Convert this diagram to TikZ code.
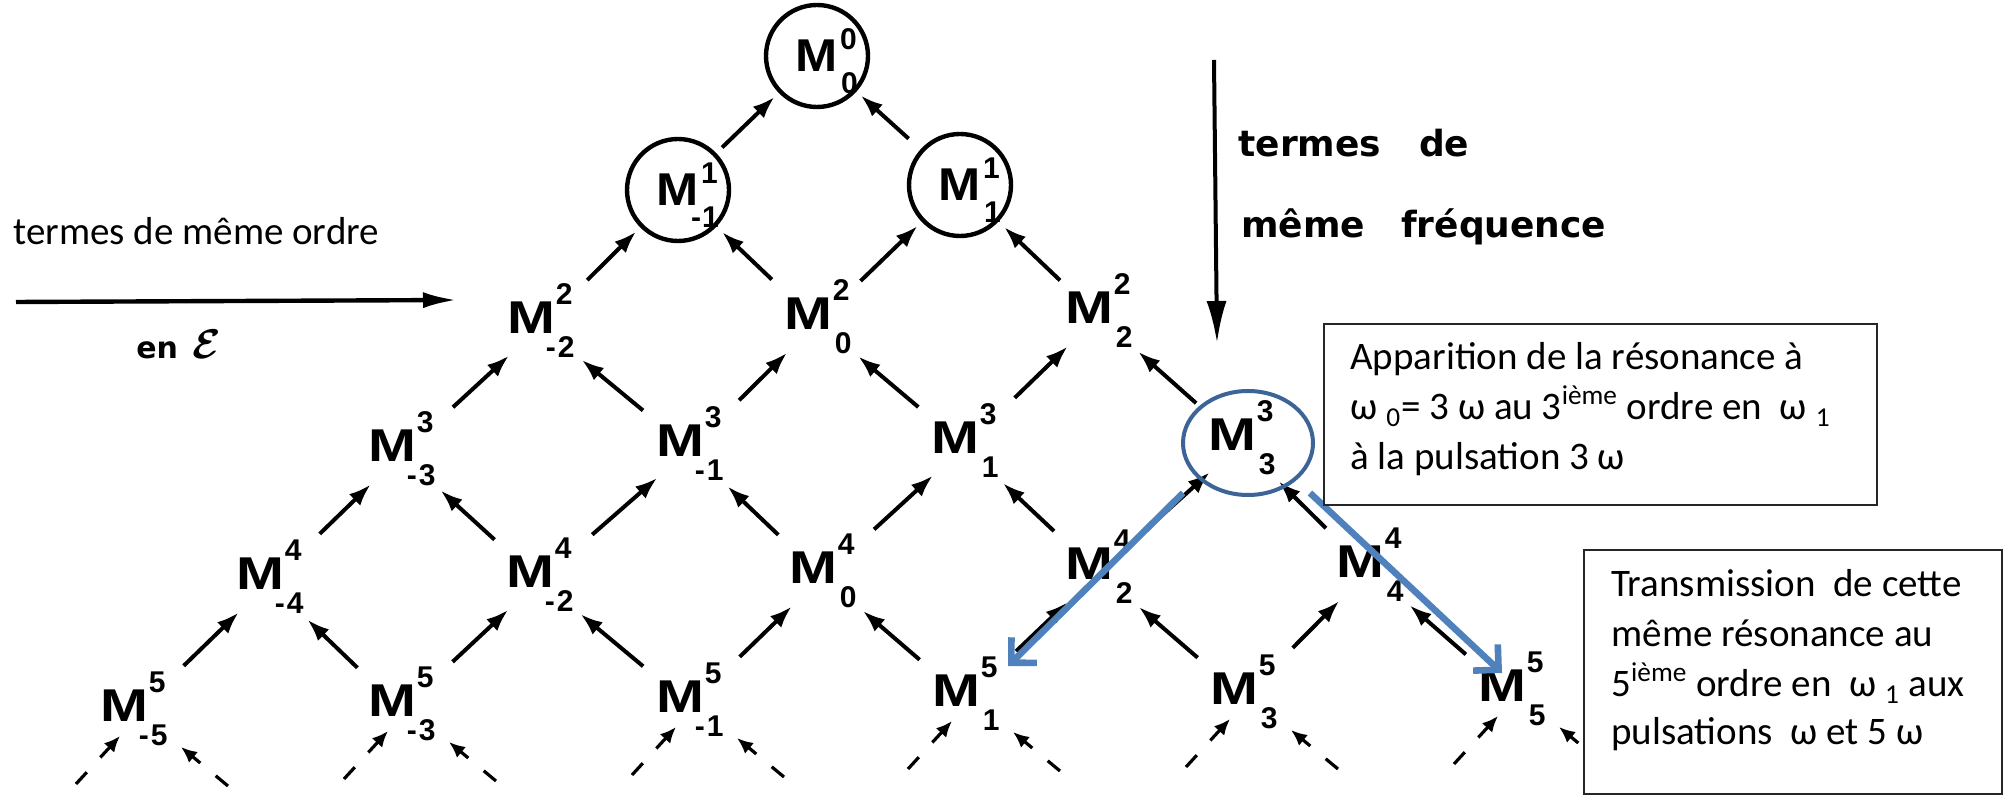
\documentclass[tikz,border=0pt]{standalone}
\usepackage{fontspec}
\usepackage{graphicx}
\setmainfont{Carlito}
\newfontfamily\latfont{Liberation Sans}
\newfontfamily\handfont{DejaVu Sans}
\usetikzlibrary{arrows.meta,calc,shapes.geometric}

\definecolor{ringblue}{RGB}{61,100,150}
\definecolor{arrblue}{RGB}{79,129,189}

\newcommand{\idxfont}{\latfont\bfseries\fontsize{15pt}{15pt}\selectfont}
% lattice term: M with its order above and its frequency index below
\newcommand{\Mlab}[3]{%
  \scalebox{1.25}[1]{M}%
  \rlap{\smash{\hspace{0.5pt}\raisebox{14.5pt}{\idxfont #1}}}%
  \rlap{\smash{\hspace{1.5pt}\raisebox{-12pt}{\idxfont\llap{#2\kern1pt}#3}}}}
% tighter version for the circled terms
\newcommand{\Mcirc}[3]{%
  \scalebox{1.1}[1]{M}%
  \rlap{\smash{\hspace{1pt}\raisebox{11pt}{\idxfont #1}}}%
  \rlap{\smash{\hspace{1.5pt}\raisebox{-11pt}{\idxfont\llap{#2\kern0.5pt}#3}}}}

\begin{document}
\begin{tikzpicture}[x=0.5pt,y=-0.5pt,
  term/.style={font=\latfont\bfseries\fontsize{23pt}{23pt}\selectfont, inner sep=0pt},
  ringed/.style={term, circle, draw, line width=2.2pt, minimum size=51pt},
  arr/.style={line width=2pt, -{Latex[length=11pt,width=8pt]}},
  upright/.style={shorten <=36pt, shorten >=20.5pt},
  upleft/.style={shorten <=24pt, shorten >=33pt},
  darr/.style={line width=1.6pt, dash pattern=on 8pt off 10pt, -{Latex[length=8pt,width=7pt]}},
  bigarr/.style={line width=2.2pt, -{Latex[length=17pt,width=8pt]}},
  vertarr/.style={line width=2pt, -{Latex[length=21pt,width=10pt]}},
  hand/.style={font=\handfont\bfseries\fontsize{18pt}{18pt}\selectfont, inner sep=0pt, anchor=base west},
  boxtxt/.style={font=\fontsize{19.5pt}{25pt}\selectfont, inner sep=0pt, anchor=base west},
  boxst/.style={draw=black!85, line width=0.9pt, fill=white, inner sep=0pt, anchor=north west},
  hl/.style={ellipse, draw=ringblue, line width=2pt, minimum width=65pt, minimum height=52pt, inner sep=0pt},
  blu/.style={draw=arrblue, line width=3.3pt, -{Straight Barb[length=9pt,width=18pt]}}
]
\useasboundingbox (0,0) rectangle (2003,795);

% ---- circled terms (orders 0 and 1)
\node[ringed] (n00) at (817,56)  {\Mcirc{0}{}{0}\hspace{19pt}};
\node[ringed] (n10) at (678,190) {\Mcirc{1}{-}{1}\hspace{19pt}};
\node[ringed] (n11) at (960,185) {\Mcirc{1}{}{1}\hspace{19pt}};

% ---- order 2
\node[term] (n20) at (531,318)  {\Mlab{2}{-}{2}};
\node[term] (n21) at (808,314)  {\Mlab{2}{}{0}};
\node[term] (n22) at (1089,308) {\Mlab{2}{}{2}};
% ---- order 3
\node[term] (n30) at (392,446)  {\Mlab{3}{-}{3}};
\node[term] (n31) at (680,441)  {\Mlab{3}{-}{1}};
\node[term] (n32) at (955,438)  {\Mlab{3}{}{1}};
\node[term] (n33) at (1232,435) {\Mlab{3}{}{3}};
% ---- order 4
\node[term] (n40) at (260,574)  {\Mlab{4}{-}{4}};
\node[term] (n41) at (530,572)  {\Mlab{4}{-}{2}};
\node[term] (n42) at (813,568)  {\Mlab{4}{}{0}};
\node[term] (n43) at (1089,564) {\Mlab{4}{}{2}};
\node[term] (n44) at (1360,562) {\Mlab{4}{}{4}};
% ---- order 5
\node[term] (n50) at (124,706)  {\Mlab{5}{-}{5}};
\node[term] (n51) at (392,701)  {\Mlab{5}{-}{3}};
\node[term] (n52) at (680,697)  {\Mlab{5}{-}{1}};
\node[term] (n53) at (956,691)  {\Mlab{5}{}{1}};
\node[term] (n54) at (1234,689) {\Mlab{5}{}{3}};
\node[term] (n55) at (1502,686) {\Mlab{5}{}{5}};

% ---- couplings between successive orders
\foreach \ra/\rb in {2/3,3/4,4/5}{
  \foreach \i in {0,...,\ra}{
    \pgfmathtruncatemacro{\ii}{\i+1}
    \draw[arr,upright] ($(n\rb\i)+(8,10)$) -- ($(n\ra\i)+(8,10)$);
    \draw[arr,upleft] (n\rb\ii.center) -- (n\ra\i.center);
  }
}
\draw[arr, shorten <=34pt, shorten >=3pt] ($(n20)+(8,10)$) -- (n10);
\draw[arr, shorten <=25pt, shorten >=4pt] (n21.center) -- (n10);
\draw[arr, shorten <=31pt, shorten >=3pt] ($(n21)+(8,10)$) -- (n11);
\draw[arr, shorten <=20pt, shorten >=4pt] (n22.center) -- (n11);
\draw[arr, shorten <=4pt, shorten >=3pt] (n10) -- (n00);
\draw[arr, shorten <=8pt, shorten >=3pt] (n11) -- (n00);

% ---- higher orders continuing below
\foreach \i in {0,...,5}{
  \coordinate (dl\i) at ($(n5\i)+(-48,78)$);
  \coordinate (dr\i) at ($(n5\i)+(104,80)$);
  \draw[darr] (dl\i) -- ($(n5\i)+(-4,30)$);
  \draw[darr] (dr\i) -- ($(n5\i)+(57,41)$);
}

% ---- direction arrows and their captions
\coordinate (hA) at (16,302);
\coordinate (hB) at (457,300);
\draw[bigarr] (hA) -- (hB);
\node[boxtxt] (ordre) at (13,245) {termes de même ordre};
\node[anchor=base west, inner sep=0pt, font=\handfont\bfseries\fontsize{15pt}{15pt}\selectfont] (enE) at (136,359)
  {en\hspace{7pt}{\fontsize{22pt}{22pt}\selectfont\boldmath$\mathcal{E}$}};

\coordinate (vA) at (1214,60);
\coordinate (vB) at (1217,343);
\draw[vertarr] (vA) -- (vB);
\node[hand] (freqA) at (1238,157) {termes\hspace{19pt}de};
\node[hand] (freqB) at (1241,238) {même\hspace{18pt}fréquence};

% ---- resonance at third order and its transmission
\node[hl] (ring) at (1248,443) {};
\draw[blu] ($(ring)+(-65,50)$) -- ($(n53)+(52,-25)$);
\draw[blu] ($(ring)+(62,50)$) -- ($(n55)+(0,-13)$);

% ---- comment boxes
\node[boxst, minimum width=276.5pt, minimum height=90.5pt] (box1) at (1323,323) {};
\node[boxtxt] (ap1) at (1350,370) {Apparition de la résonance à};
\node[boxtxt] (ap2) at (1350,420) {ω\ \textsubscript{0}= 3 ω au 3\textsuperscript{ième} ordre en\ \ ω\ \textsubscript{1}};
\node[boxtxt] (ap3) at (1350,470) {à la pulsation 3 ω};

\node[boxst, minimum width=209pt, minimum height=122pt] (box2) at (1583,549) {};
\node[boxtxt] (tr1) at (1611,597) {Transmission\ \ de cette};
\node[boxtxt] (tr2) at (1611,647) {même résonance au};
\node[boxtxt] (tr3) at (1611,697) {5\textsuperscript{ième} ordre en\ \ ω\ \textsubscript{1} aux};
\node[boxtxt] (tr4) at (1611,745) {pulsations\ \ ω et 5 ω};
\end{tikzpicture}
\end{document}
